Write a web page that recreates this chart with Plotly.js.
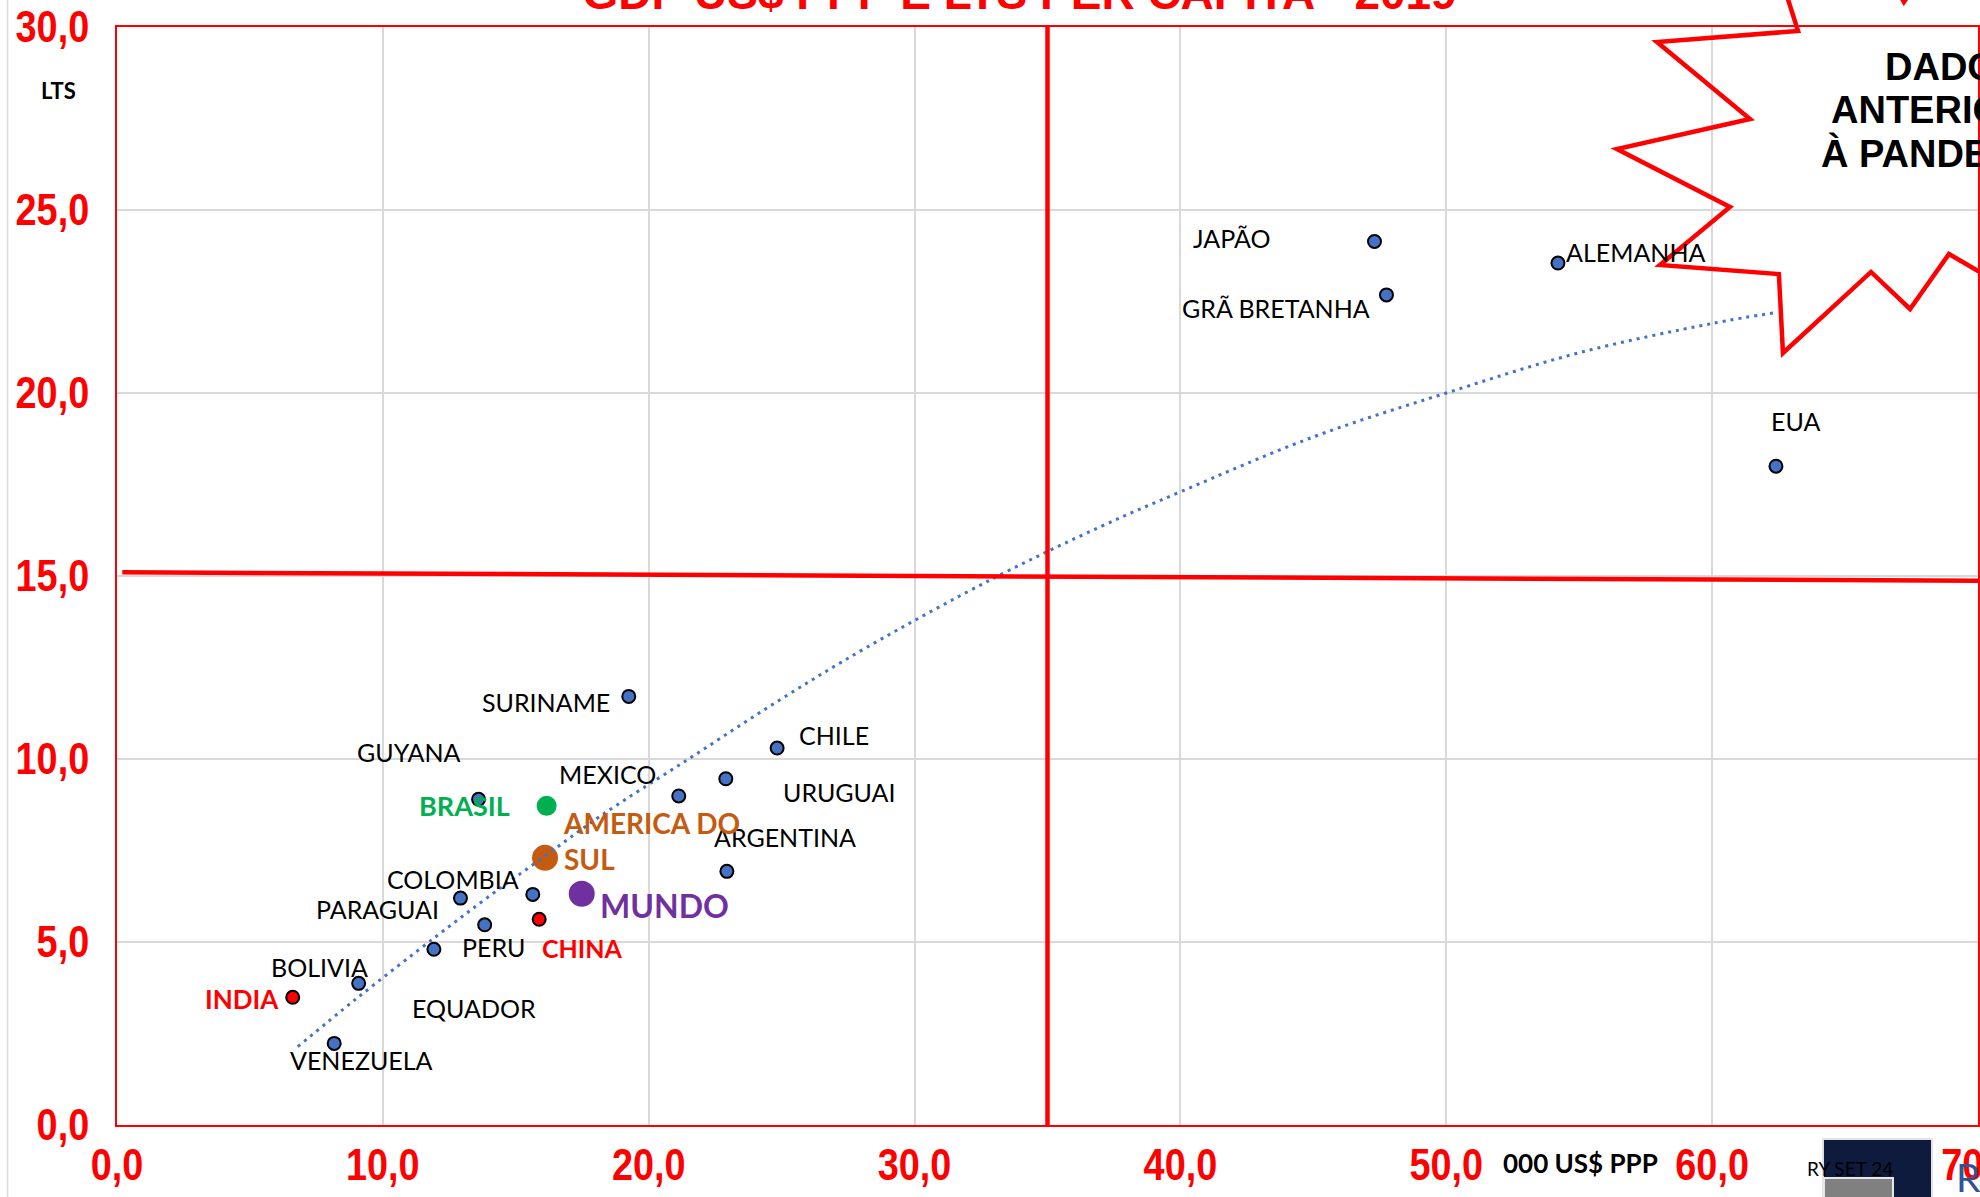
<!DOCTYPE html>
<html>
<head>
<meta charset="utf-8">
<script src="https://cdn.plot.ly/plotly-3.0.1.min.js"></script>
<style>
html,body{margin:0;padding:0;background:#fff;overflow:hidden}
#chart{width:1980px;height:1197px}
</style>
</head>
<body>
<div id="chart"></div>
<script>
// ---------- DATA ----------
const countries = ["JAPÃO","GRÃ BRETANHA","ALEMANHA","EUA","SURINAME","CHILE","URUGUAI","MEXICO","GUYANA","ARGENTINA","COLOMBIA","PARAGUAI","PERU","EQUADOR","BOLIVIA","VENEZUELA"];
const gdpPPP = [47.3, 47.75, 54.2, 62.4, 19.25, 24.83, 22.9, 21.13, 13.6, 22.94, 15.64, 12.92, 13.83, 11.92, 9.09, 8.17];
const ltsPerCapita = [24.14, 22.68, 23.55, 18.0, 11.71, 10.3, 9.46, 8.99, 8.9, 6.93, 6.3, 6.2, 5.47, 4.8, 3.87, 2.23];

const brasilName = "BRASIL";     const brasilX = [16.16]; const brasilY = [8.72];
const amSulName = "AMERICA DO<br>SUL"; const amSulX = [16.1]; const amSulY = [7.3];
const mundoName = "MUNDO";       const mundoX = [17.48];  const mundoY = [6.32];
const chinaName = "CHINA";       const chinaX = [15.88];  const chinaY = [5.62];
const indiaName = "INDIA";       const indiaX = [6.61];   const indiaY = [3.49];

// trendline
const trendX = [6.8, 9, 12, 14, 16.1, 18.2, 21.5, 24.9, 28.2, 33, 37, 40, 45, 50, 55, 60, 62.4];
const trendY = [2.14, 3.45, 5.15, 6.25, 7.35, 8.45, 10.0, 11.6, 13.05, 14.95, 16.35, 17.3, 18.8, 20.0, 21.1, 21.9, 22.2];

const xTicks = [0, 10, 20, 30, 40, 50, 60, 70];
const yTicks = [0, 5, 10, 15, 20, 25, 30];

const refX = 35;             // vertical red reference line
const refYLeft = 15.1, refYRight = 14.87; // horizontal red reference line

const titleText = "GDP US$ PPP E LTS PER CAPITA - 2019";
const yTitle = "LTS";
const xTitle = "000 US$ PPP";
const noteLines = ["DADOS", "ANTERIORES", "À PANDEMIA"];
const logoText = "RY SET 24";

// ---------- LABEL PLACEMENT (pixel offsets from the points) ----------
const labelShift = [[-143,3],[-110,-13],[78,11],[20,45],[-83,-6],[57,13],[114,-13],[-71,22],[-70,47],[58,34],[-80,15],[-83,-11],[9,-22],[40,-59],[-39,16],[27,-17]];

// ---------- STYLES ----------
const BLUE = "#4472C4", RED = "#FF0000";
const labelFont = {family: "Lato, Carlito, Calibri, sans-serif", size: 25, color: "#000"};
const tickFont = {family: "'Liberation Sans Narrow', 'Arial Narrow', 'Liberation Sans', Arial, sans-serif", size: 44, color: RED, weight: 700};
const TICK_SQUEEZE = 0.86;

const traces = [
  {x: gdpPPP, y: ltsPerCapita, mode: "markers", type: "scatter",
   marker: {color: BLUE, size: 13, line: {color: "#000", width: 2}}},
  {x: brasilX, y: brasilY, mode: "markers", type: "scatter",
   marker: {color: "#00B050", size: 20}},
  {x: amSulX, y: amSulY, mode: "markers", type: "scatter",
   marker: {color: "#C55A11", size: 26}},
  {x: mundoX, y: mundoY, mode: "markers", type: "scatter",
   marker: {color: "#7030A0", size: 26}},
  {x: chinaX, y: chinaY, mode: "markers", type: "scatter",
   marker: {color: RED, size: 13, line: {color: "#000", width: 2}}},
  {x: indiaX, y: indiaY, mode: "markers", type: "scatter",
   marker: {color: RED, size: 13, line: {color: "#000", width: 2}}},
  {x: trendX, y: trendY, mode: "lines", type: "scatter",
   line: {color: BLUE, width: 3, dash: "3px,5px", shape: "spline"}}
];

const annotations = [];
countries.forEach((c, i) => {
  annotations.push({x: gdpPPP[i], y: ltsPerCapita[i], xref: "x", yref: "y", text: c,
    showarrow: false, xshift: labelShift[i][0], yshift: labelShift[i][1], font: labelFont});
});
annotations.push({x: brasilX[0], y: brasilY[0], text: "<b>" + brasilName + "</b>", showarrow: false,
  xshift: -82, yshift: 0, font: {family: labelFont.family, size: 27, color: "#00B050"}});
annotations.push({x: amSulX[0], y: amSulY[0], text: "<b>" + amSulName + "</b>", showarrow: false, align: "left",
  xanchor: "left", yanchor: "middle", xshift: 16, yshift: 17, font: {family: labelFont.family, size: 28, color: "#C55A11"}});
annotations.push({x: mundoX[0], y: mundoY[0], text: "<b>" + mundoName + "</b>", showarrow: false,
  xanchor: "left", xshift: 16, yshift: -12, font: {family: labelFont.family, size: 32, color: "#7030A0"}});
annotations.push({x: chinaX[0], y: chinaY[0], text: "<b>" + chinaName + "</b>", showarrow: false,
  xshift: 43, yshift: -29, font: {family: labelFont.family, size: 25, color: RED}});
annotations.push({x: indiaX[0], y: indiaY[0], text: "<b>" + indiaName + "</b>", showarrow: false,
  xshift: -51, yshift: -2, font: {family: labelFont.family, size: 26, color: RED}});

// axis titles
annotations.push({xref: "paper", yref: "paper", x: -0.0315, y: 0.9418, text: "<b>" + yTitle + "</b>", showarrow: false,
  xanchor: "center", yanchor: "middle", font: {family: labelFont.family, size: 22, color: "#000"}});
annotations.push({xref: "paper", yref: "paper", x: 0.7866, y: -0.0346, text: "<b>" + xTitle + "</b>", showarrow: false,
  xanchor: "center", yanchor: "middle", font: {family: labelFont.family, size: 26, color: "#000"}});

// starburst note
const noteStarts = [0.9490, 0.9200, 0.9145];
const noteYs = [0.9636, 0.9244, 0.8852];
noteLines.forEach((t, i) => {
  annotations.push({xref: "paper", yref: "paper", x: noteStarts[i], y: noteYs[i], text: "<b>" + t + "</b>",
    showarrow: false, xanchor: "left", yanchor: "middle",
    font: {family: "'Liberation Sans', Arial, sans-serif", size: 38, color: "#000"}});
});

// logo bits bottom right
annotations.push({xref: "paper", yref: "paper", x: 0.9312, y: -0.0392, text: logoText, showarrow: false,
  xanchor: "center", yanchor: "middle", font: {family: labelFont.family, size: 19, color: "#000"}});
annotations.push({xref: "paper", yref: "paper", x: 0.9870, y: -0.0475, text: "R", showarrow: false,
  xanchor: "left", yanchor: "middle", font: {family: labelFont.family, size: 39, color: "#2F5597"}});

function px(xp){ return (xp - 117.4) / 1860.6; }
function py(yp){ return (1125 - yp) / 1098; }
const starPts = [[1785,-10],[1798,31],[1657,42],[1750,119],[1617,149],[1730,207],[1660,265],[1779,274],[1783,353],[1871,272],[1910,309],[1949,254],[1995,281]];
const starPath = "M " + starPts.map(p => px(p[0]).toFixed(4) + "," + py(p[1]).toFixed(4)).join(" L ");
const tipPath = "M " + [[1897,-10],[1904,2],[1912,-10]].map(p => px(p[0]).toFixed(4) + "," + py(p[1]).toFixed(4)).join(" L ");

const shapes = [
  {type: "line", xref: "paper", yref: "paper", x0: px(8), x1: px(8), y0: py(-5), y1: py(1200),
   line: {color: "#D9D9D9", width: 1.5}, layer: "below"},
  {type: "line", xref: "x", yref: "y", x0: refX, x1: refX, y0: -0.15, y1: 30.08,
   line: {color: RED, width: 4.5}, layer: "above"},
  {type: "line", xref: "x", yref: "y", x0: 0.2, x1: 70, y0: refYLeft, y1: refYRight,
   line: {color: RED, width: 4.5}, layer: "above"},
  {type: "path", xref: "paper", yref: "paper", path: starPath, line: {color: RED, width: 4.5}, layer: "above"},
  {type: "path", xref: "paper", yref: "paper", path: tipPath, line: {color: RED, width: 4.5}, layer: "above"},
  {type: "rect", xref: "paper", yref: "paper", x0: px(1823), x1: px(1932), y0: py(1139), y1: py(1205),
   fillcolor: "#0E1B3D", line: {color: "#E3E3E3", width: 2}, layer: "above"},
  {type: "rect", xref: "paper", yref: "paper", x0: px(1824), x1: px(1893), y0: py(1178), y1: py(1205),
   fillcolor: "#808080", line: {color: "#E8E8E8", width: 2}, layer: "above"}
];

const axisCommon = {
  showgrid: true, gridcolor: "#D9D9D9", gridwidth: 2,
  showline: true, linecolor: RED, linewidth: 2, mirror: true,
  zeroline: false, tickformat: ".1f", ticks: "",
  tickfont: tickFont, ticklabeloverflow: "allow", fixedrange: true
};

const layout = {
  width: 1980, height: 1197, autosize: false,
  margin: {l: 117, r: 2, t: 27, b: 72},
  paper_bgcolor: "#FFFFFF", plot_bgcolor: "#FFFFFF",
  separators: ",.",
  showlegend: false,
  title: {text: "<b>" + titleText + "</b>", font: {family: "'Liberation Sans', Arial, sans-serif", size: 46, color: RED},
    x: 0.485, xanchor: "center", xref: "paper", y: 0.9925, yref: "container", yanchor: "bottom"},
  xaxis: Object.assign({}, axisCommon, {range: [0, 70], tickvals: xTicks, ticklabelstandoff: 0}),
  yaxis: Object.assign({}, axisCommon, {range: [0, 30], tickvals: yTicks, ticklabelstandoff: 17}),
  annotations: annotations,
  shapes: shapes,
  hovermode: false
};

Plotly.newPlot("chart", traces, layout, {displayModeBar: false, staticPlot: true}).then(gd => {
  // narrow the bold tick labels to imitate the condensed face of the original
  const squeeze = (sel, anchor) => {
    gd.querySelectorAll(sel).forEach(t => {
      const b = t.getBBox();
      const ax = anchor === "end" ? b.x + b.width : b.x + b.width / 2;
      const tr = t.getAttribute("transform") || "";
      t.setAttribute("transform", tr + " translate(" + ax + ",0) scale(" + TICK_SQUEEZE + ",1) translate(" + (-ax) + ",0)");
    });
  };
  squeeze(".xtick text", "middle");
  squeeze(".ytick text", "end");
});
</script>
</body>
</html>
